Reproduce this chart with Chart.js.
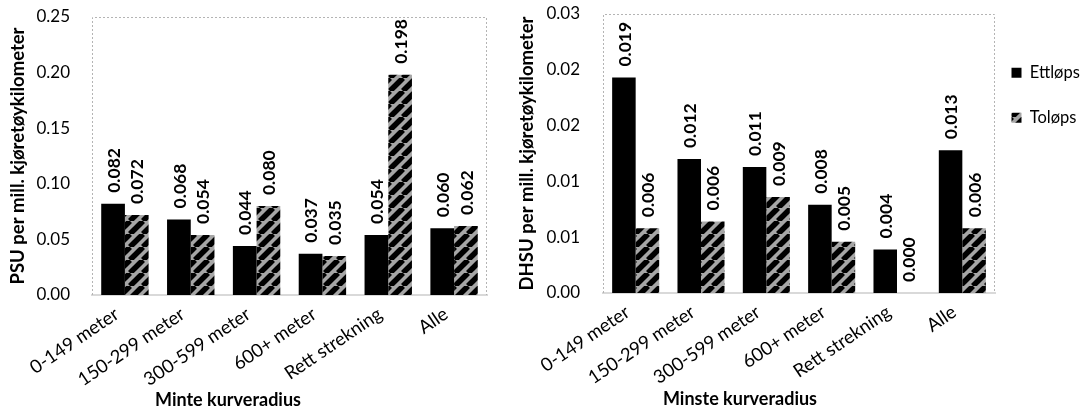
<!DOCTYPE html>
<html><head><meta charset="utf-8">
<script src="https://cdn.jsdelivr.net/npm/chart.js@4.4.1/dist/chart.umd.min.js"></script>
<style>
html,body{margin:0;padding:0;background:#fff;}
#wrap{position:relative;width:1087px;height:412px;overflow:hidden;font-family:Lato, sans-serif;}
.c{position:absolute;top:0;height:412px;}
#left{left:0;width:505px;}
#right{left:505px;width:582px;}
.xt{position:absolute;font:bold 18px Lato;color:#000;white-space:nowrap;transform:translateX(-50%);line-height:22px;}
</style></head>
<body>
<div id="wrap">
 <div class="c" id="left"><canvas id="c1"></canvas></div>
 <div class="c" id="right"><canvas id="c2"></canvas></div>
 <div class="xt" style="left:228px;top:388px">Minte kurveradius</div>
 <div class="xt" style="left:740px;top:387px">Minste kurveradius</div>
</div>
<script>
const categories = ['0-149 meter','150-299 meter','300-599 meter','600+ meter','Rett strekning','Alle'];
const seriesNames = ['Ettløps','Toløps'];
const psuEttlops = [0.082,0.068,0.044,0.037,0.054,0.060];
const psuTolops = [0.072,0.054,0.080,0.035,0.198,0.062];
const dhsuEttlops = [0.0193,0.0120,0.0113,0.0079,0.0039,0.0128];
const dhsuTolops = [0.0058,0.0064,0.0086,0.0046,0.0,0.0058];
const psuTicks = ['0.00','0.05','0.10','0.15','0.20','0.25'];
const dhsuTicks = ['0.00','0.01','0.01','0.02','0.02','0.03'];

function hatch(){
  const s=13, c=document.createElement('canvas'); c.width=s; c.height=s;
  const x=c.getContext('2d');
  x.fillStyle='#a6a6a6'; x.fillRect(0,0,s,s);
  x.strokeStyle='#000'; x.lineWidth=5.5;
  for (const o of [-s,0,s]) { x.beginPath(); x.moveTo(o,s); x.lineTo(o+s,0); x.stroke(); }
  return x.createPattern(c,'repeat');
}
const hatchFill = hatch();

const borderPlugin = { id:'plotBorder', beforeDatasetsDraw(chart){
  const {ctx, chartArea:a} = chart; ctx.save();
  ctx.strokeStyle='#b4b4b4'; ctx.lineWidth=1; ctx.setLineDash([2,2]);
  ctx.beginPath(); ctx.moveTo(a.left+0.5,a.bottom); ctx.lineTo(a.left+0.5,a.top+0.5);
  ctx.lineTo(a.right-0.5,a.top+0.5); ctx.lineTo(a.right-0.5,a.bottom); ctx.stroke(); ctx.restore(); } };
const labelPlugin = { id:'barLabels', afterDatasetsDraw(chart){
  const ctx = chart.ctx; ctx.save();
  ctx.font='bold 17.5px Lato'; ctx.fillStyle='#000'; ctx.textAlign='left'; ctx.textBaseline='middle';
  chart.data.datasets.forEach((ds,i)=>{
    chart.getDatasetMeta(i).data.forEach((el,j)=>{
      ctx.save(); ctx.translate(el.x+1, el.y-11); ctx.rotate(-Math.PI/2);
      ctx.fillText(ds.data[j].toFixed(3),0,0); ctx.restore();
    });
  });
  ctx.restore(); } };
// widen the legend box to the left after layout (plot area stays where it is)
const legendShift = { id:'legendShift', afterLayout(chart, args, opts){
  if (chart.legend && opts.dx) { chart.legend.left += opts.dx; chart.legend.width -= opts.dx; } } };

Chart.defaults.font.family = 'Lato';
Chart.defaults.color = '#000';

function makeChart(id, ett, tol, tickLabels, max, step, ytitle, o){
  return new Chart(document.getElementById(id), {
    type:'bar',
    data:{ labels:categories, datasets:[
      {label:seriesNames[0], data:ett, backgroundColor:'#000', borderWidth:0, categoryPercentage:0.72, barPercentage:1},
      {label:seriesNames[1], data:tol, backgroundColor:hatchFill, borderWidth:0, categoryPercentage:0.72, barPercentage:1}
    ]},
    options:{
      responsive:true, maintainAspectRatio:false, animation:false,
      layout:{padding:o.pad},
      plugins:{ legend:o.legend, tooltip:{enabled:false}, legendShift:{dx:o.legendDx||0} },
      scales:{
        x:{ grid:{display:false, drawTicks:false}, border:{display:true, color:'#d9d9d9', width:2},
            ticks:{font:{size:18.5}, color:'#000', minRotation:34, maxRotation:34, padding:8, labelOffset:-8, autoSkip:false},
            afterFit(s){ s.height = o.xh; } },
        y:{ min:0, max:max, grid:{display:false, drawTicks:true, tickLength:o.tickLen}, border:{display:false},
            ticks:{stepSize:step, font:{size:17}, color:'#000', padding:2, callback:(v,i)=>tickLabels[i]},
            title:{display:true, text:ytitle, font:{size:18.5, weight:'bold'}, color:'#000', padding:{top:o.titlePad, bottom:0}},
            afterFit(s){ s.width = o.yw; } }
      }
    },
    plugins:[borderPlugin, labelPlugin, legendShift]
  });
}

makeChart('c1', psuEttlops, psuTolops, psuTicks, 0.25, 0.05, 'PSU per mill. kjøretøykilometer',
  {pad:{top:17, right:18, left:0, bottom:0}, xh:117, yw:92, tickLen:20, titlePad:7, legend:{display:false}});
makeChart('c2', dhsuEttlops, dhsuTolops, dhsuTicks, 0.025, 0.005, 'DHSU per mill. kjøretøykilometer',
  {pad:{top:14, right:0, left:0, bottom:0}, xh:119, yw:98, tickLen:21, titlePad:11, legendDx:-12,
   legend:{display:true, position:'right', align:'start', maxWidth:92,
     title:{display:true, text:'', font:{size:10}, padding:{top:10, bottom:0}},
     labels:{boxWidth:10, boxHeight:10, font:{size:16.5}, color:'#000', padding:28.5}}});
</script>
</body></html>
